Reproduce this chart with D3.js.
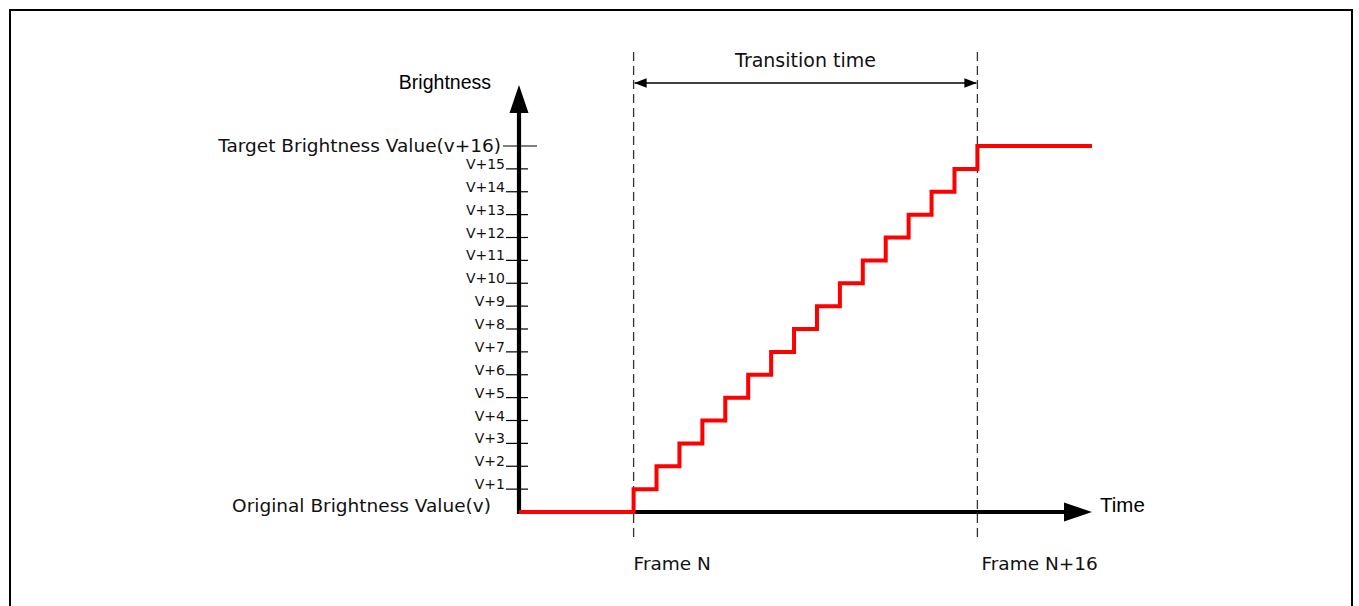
<!DOCTYPE html>
<html>
<head>
<meta charset="utf-8">
<script src="https://cdn.jsdelivr.net/npm/d3@7"></script>
<style>
  html, body { margin: 0; padding: 0; background: #fff; }
  svg text { font-family: "DejaVu Sans", Verdana, sans-serif; fill: #111; }
  svg text.axis-title { font-family: "Liberation Sans", Arial, sans-serif; fill: #000; }
</style>
</head>
<body>
<svg id="chart" width="1359" height="606"></svg>
<script>
// Brightness level (steps above v) reached at each frame offset from Frame N
const stepFrames = [0, 1, 2, 3, 4, 5, 6, 7, 8, 9, 10, 11, 12, 13, 14, 15];
const stepLevels = [1, 2, 3, 4, 5, 6, 7, 8, 9, 10, 11, 12, 13, 14, 15, 16];
// Level labels on the brightness axis
const levelTicks = [1, 2, 3, 4, 5, 6, 7, 8, 9, 10, 11, 12, 13, 14, 15];
const levelLabels = ["V+1", "V+2", "V+3", "V+4", "V+5", "V+6", "V+7", "V+8",
                     "V+9", "V+10", "V+11", "V+12", "V+13", "V+14", "V+15"];
const baseLabel = "Original Brightness Value(v)";
const targetLabel = "Target Brightness Value(v+16)";
const targetLevel = 16;
// Frame markers on the time axis
const markerFrames = [0, 15];
const markerLabels = ["Frame N", "Frame N+16"];
const timeStart = -5, timeEnd = 20;

const svg = d3.select("#chart");

// outer frame
svg.append("rect")
  .attr("x", 10).attr("y", 10).attr("width", 1342).attr("height", 620)
  .attr("fill", "none").attr("stroke", "#000").attr("stroke-width", 2);

const x = d3.scaleLinear().domain([timeStart, timeEnd]).range([519, 1092]);
const y = d3.scaleLinear().domain([0, 16]).range([512, 146]);

const defs = svg.append("defs");
defs.append("marker").attr("id", "thinHead")
  .attr("viewBox", "0 0 10 10").attr("refX", 10).attr("refY", 5)
  .attr("markerWidth", 12).attr("markerHeight", 12).attr("markerUnits", "userSpaceOnUse")
  .attr("orient", "auto-start-reverse")
  .append("path").attr("d", "M0,1 L10,5 L0,9 Z").attr("fill", "#000");

// dashed frame guides
markerFrames.forEach(f => {
  svg.append("line")
    .attr("x1", x(f)).attr("x2", x(f)).attr("y1", 52).attr("y2", 542)
    .attr("stroke", "#333").attr("stroke-width", 1.3)
    .attr("stroke-dasharray", "9,5");
});

// transition-time span arrow
svg.append("line")
  .attr("x1", x(markerFrames[0]) + 1).attr("x2", x(markerFrames[1]) - 1)
  .attr("y1", 83).attr("y2", 83)
  .attr("stroke", "#000").attr("stroke-width", 1.4)
  .attr("marker-start", "url(#thinHead)").attr("marker-end", "url(#thinHead)");
svg.append("text")
  .attr("x", (x(markerFrames[0]) + x(markerFrames[1])) / 2).attr("y", 67)
  .attr("text-anchor", "middle").style("font-size", "19px")
  .text("Transition time");

// brightness axis
const yTop = 85;
svg.append("line")
  .attr("x1", x(timeStart)).attr("x2", x(timeStart))
  .attr("y1", y(0) + 2).attr("y2", yTop + 24)
  .attr("stroke", "#000").attr("stroke-width", 4.2);
svg.append("path")
  .attr("d", `M${x(timeStart)},${yTop} L${x(timeStart) - 9.5},${yTop + 28} L${x(timeStart) + 9.5},${yTop + 28} Z`)
  .attr("fill", "#000");

// time axis
const xEnd = x(timeEnd);
svg.append("line")
  .attr("x1", x(timeStart)).attr("x2", xEnd - 24)
  .attr("y1", y(0)).attr("y2", y(0))
  .attr("stroke", "#000").attr("stroke-width", 4.2);
svg.append("path")
  .attr("d", `M${xEnd},${y(0)} L${xEnd - 28},${y(0) - 9.5} L${xEnd - 28},${y(0) + 9.5} Z`)
  .attr("fill", "#000");

// level ticks and labels
const ax = x(timeStart);
levelTicks.forEach((lv, i) => {
  svg.append("line")
    .attr("x1", ax - 13).attr("x2", ax + 9)
    .attr("y1", y(lv)).attr("y2", y(lv))
    .attr("stroke", "#000").attr("stroke-width", 1.2);
  svg.append("text")
    .attr("x", ax - 14).attr("y", y(lv))
    .attr("text-anchor", "end").style("font-size", "14px")
    .text(levelLabels[i]);
});
svg.append("line")
  .attr("x1", ax - 16).attr("x2", ax + 18)
  .attr("y1", y(targetLevel)).attr("y2", y(targetLevel))
  .attr("stroke", "#000").attr("stroke-width", 1.2);
svg.append("text")
  .attr("x", ax - 18).attr("y", y(targetLevel) + 6)
  .attr("text-anchor", "end").style("font-size", "18.5px")
  .text(targetLabel);
svg.append("text")
  .attr("x", ax - 28).attr("y", y(0))
  .attr("text-anchor", "end").style("font-size", "18.5px")
  .text(baseLabel);

// axis titles
svg.append("text").attr("class", "axis-title")
  .attr("x", ax - 28).attr("y", 89)
  .attr("text-anchor", "end").style("font-size", "19.5px")
  .text("Brightness");
svg.append("text").attr("class", "axis-title")
  .attr("x", xEnd + 8).attr("y", 512)
  .style("font-size", "20.5px")
  .text("Time");

// frame labels
markerFrames.forEach((f, i) => {
  svg.append("text")
    .attr("x", x(f) + (i === 0 ? 0 : 4)).attr("y", 570)
    .style("font-size", "18.5px")
    .text(markerLabels[i]);
});

// stepped brightness curve: holds each level until the next frame
const pts = [[timeStart, 0]];
stepFrames.forEach((f, i) => pts.push([f, stepLevels[i]]));
pts.push([timeEnd, stepLevels[stepLevels.length - 1]]);
const line = d3.line()
  .x(d => x(d[0])).y(d => y(d[1]))
  .curve(d3.curveStepAfter);
svg.append("path")
  .datum(pts)
  .attr("d", line)
  .attr("fill", "none").attr("stroke", "#ff0000")
  .attr("stroke-width", 4).attr("stroke-linejoin", "miter");
</script>
</body>
</html>
